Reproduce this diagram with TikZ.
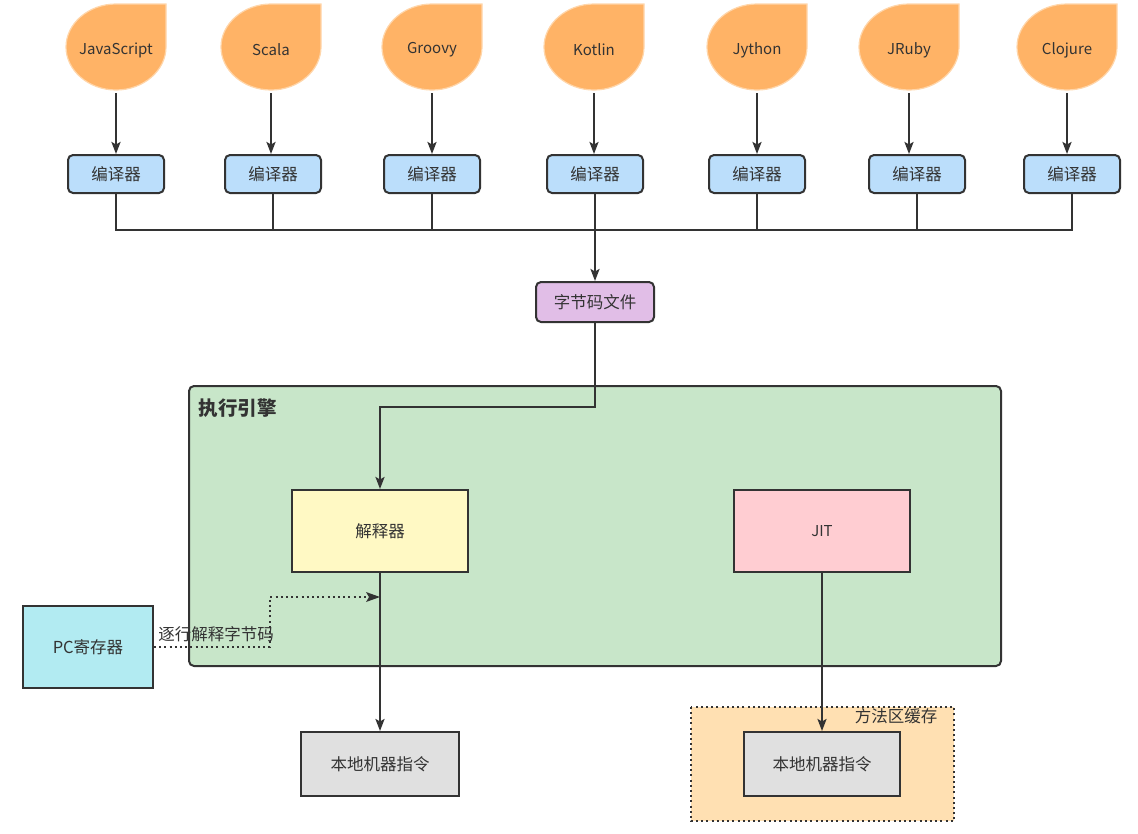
\documentclass[tikz,border=0pt]{standalone}
\usepackage{fontspec}
\setmainfont{Noto Sans CJK SC}
\usetikzlibrary{arrows.meta}
\definecolor{ln}{HTML}{333333}
\definecolor{txt}{HTML}{333333}
\definecolor{dropfill}{HTML}{FFB366}
\definecolor{dropedge}{HTML}{FFD6AA}
\definecolor{compfill}{HTML}{BBDEFB}
\definecolor{bcfill}{HTML}{E1BEE7}
\definecolor{engfill}{HTML}{C8E6C9}
\definecolor{intfill}{HTML}{FFF9C4}
\definecolor{jitfill}{HTML}{FFCDD2}
\definecolor{pcfill}{HTML}{B2EBF2}
\definecolor{natfill}{HTML}{E0E0E0}
\definecolor{cachefill}{HTML}{FFE0B2}
\newcommand\langdrop[3]{%
  \path[fill=dropfill,draw=dropedge,line width=1.2pt]
    (#2+50,4) -- (#2,4)
    .. controls (#2-27.6,4) and (#2-50,23.7) .. (#2-50,47)
    .. controls (#2-50,70.3) and (#2-27.6,90) .. (#2,90)
    .. controls (#2+27.6,90) and (#2+50,70.3) .. (#2+50,47) -- cycle;
  \node[dropnode] (#1) at (#2,50) {#3};}
\begin{document}
\begin{tikzpicture}[x=1pt,y=-1pt,
  font=\fontsize{16.5}{19}\selectfont, text=txt,
  dropnode/.style={minimum width=100pt,minimum height=86pt,inner sep=0pt,font=\fontsize{15}{18}\selectfont},
  comp/.style={draw=ln,line width=2pt,fill=compfill,rounded corners=5pt,minimum width=96pt,minimum height=38pt,inner sep=0pt},
  plain/.style={draw=ln,line width=2pt,inner sep=0pt},
  conn/.style={draw=ln,line width=2.2pt},
  arr/.style={conn,-{Stealth[length=12pt,width=9pt,inset=2.5pt]}},
  dotconn/.style={draw=ln,line width=2.2pt,dash pattern=on 2pt off 3.2pt},
]
\useasboundingbox (0,0) rectangle (1138,833);
% languages
\langdrop{js}{116}{JavaScript}
\langdrop{sc}{271}{Scala}
\langdrop{gr}{432}{Groovy}
\langdrop{kt}{594}{Kotlin}
\langdrop{jy}{757}{Jython}
\langdrop{jr}{909}{JRuby}
\langdrop{cl}{1067}{Clojure}
% compilers
\node[comp] (c1) at (116,174) {编译器};
\node[comp] (c2) at (273,174) {编译器};
\node[comp] (c3) at (432,174) {编译器};
\node[comp] (c4) at (595,174) {编译器};
\node[comp] (c5) at (757,174) {编译器};
\node[comp] (c6) at (917,174) {编译器};
\node[comp] (c7) at (1072,174) {编译器};
\foreach \d/\c in {js/c1,sc/c2,gr/c3,kt/c4,jy/c5,jr/c6,cl/c7}
  \draw[arr] (\d.south) -- (\d.south |- \c.north);
% bus
\coordinate (bus) at (0,230);
\draw[conn] (c1.south) -- (c1.south |- bus) -- (c7.south |- bus) -- (c7.south);
\foreach \c in {c2,c3,c5,c6}
  \draw[conn] (\c.south) -- (\c.south |- bus);
% bytecode file
\node[comp,fill=bcfill,minimum width=118pt,minimum height=40pt] (bc) at (595,302) {字节码文件};
\draw[arr] (c4.south) -- (bc.north);
% execution engine
\node[plain,fill=engfill,rounded corners=5pt,minimum width=812pt,minimum height=280pt] (eng) at (595,526) {};
\node[anchor=west,font=\fontsize{19.5}{22}\selectfont\bfseries] (englabel) at (195,408) {执行引擎};
\node[plain,fill=intfill,minimum width=176pt,minimum height=82pt] (interp) at (380,531) {解释器};
\node[plain,fill=jitfill,minimum width=176pt,minimum height=82pt] (jit) at (822,531) {\fontsize{15}{18}\selectfont JIT};
\coordinate (bend) at (0,407);
\draw[arr] (bc.south) -- (bc.south |- bend) -| (interp.north);
% PC register
\node[plain,fill=pcfill,minimum width=130pt,minimum height=82pt] (pc) at (88,647) {PC寄存器};
\coordinate (dotknee) at (270,597);
\coordinate (dotend) at (interp.south |- dotknee);
\draw[dotconn] (pc.east) -| (dotknee) -- (dotend);
\fill[ln] (dotend) -- ++(-14,-5) -- ++(3,5) -- ++(-3,5) -- cycle;
\node (dotlabel) at (216,634) {逐行解释字节码};
% native instructions
\node[plain,fill=natfill,minimum width=158pt,minimum height=64pt] (nat1) at (380,764) {本地机器指令};
\draw[arr] (interp.south) -- (nat1.north);
\node[fill=cachefill,inner sep=0pt,minimum width=263pt,minimum height=114pt] (cache) at (822.5,764) {};
\draw[dotconn] (cache.north west) rectangle (cache.south east);
\node[anchor=north east] (cachelabel) at (941,705) {方法区缓存};
\node[plain,fill=natfill,minimum width=156pt,minimum height=64pt] (nat2) at (822,764) {本地机器指令};
\draw[arr] (jit.south) -- (nat2.north);
\end{tikzpicture}
\end{document}
